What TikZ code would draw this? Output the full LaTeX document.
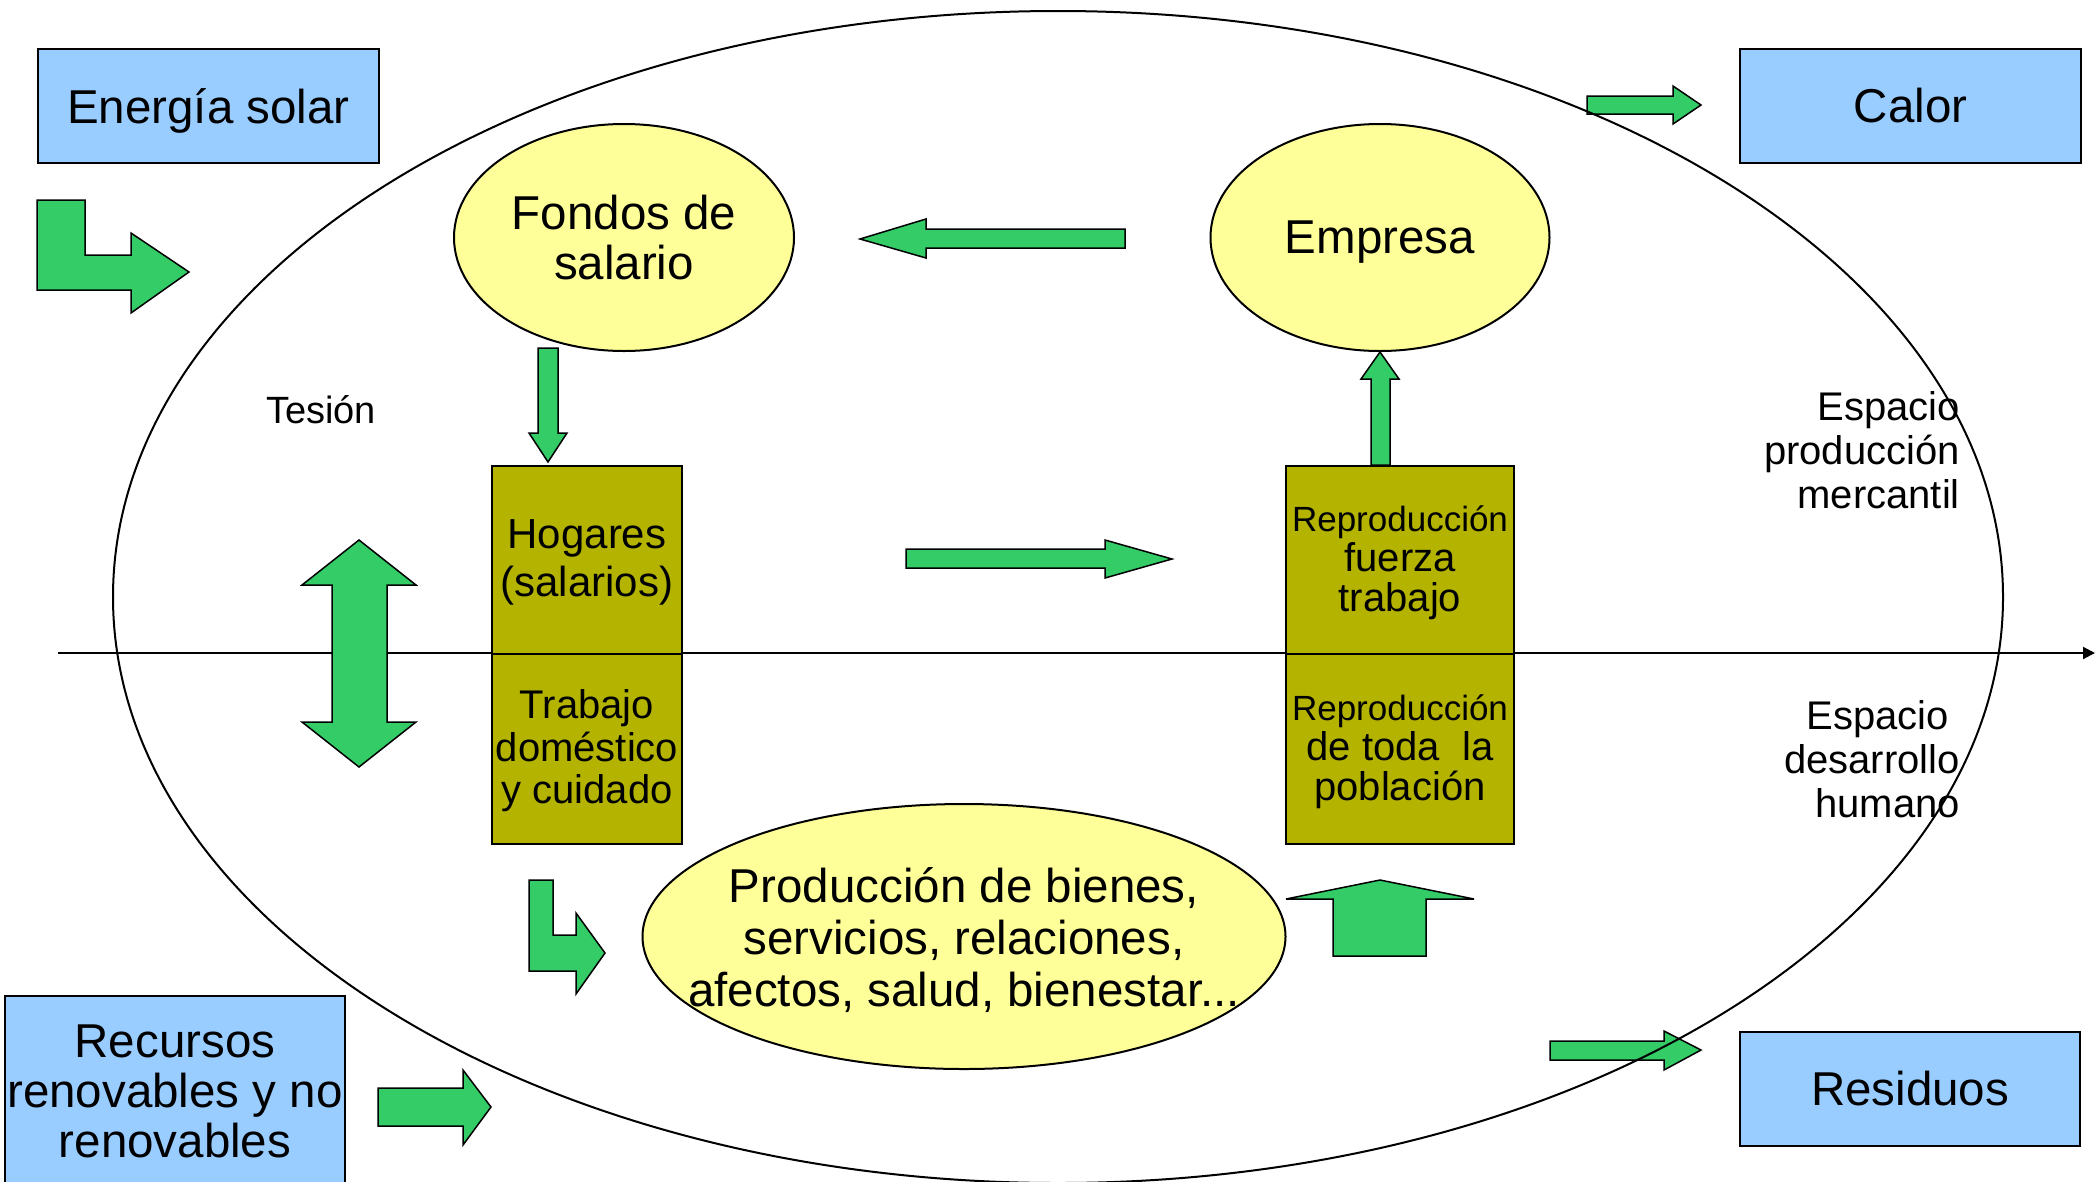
\documentclass[tikz,border=0pt]{standalone}
\usepackage{fontspec}
\setmainfont{Liberation Sans}
\usetikzlibrary{shapes.geometric,arrows.meta}
\definecolor{sky}{HTML}{99CCFF}
\definecolor{pale}{HTML}{FFFF99}
\definecolor{leaf}{HTML}{33CC66}
\definecolor{olivebox}{HTML}{B3B300}
\begin{document}
\begin{tikzpicture}[x=1pt,y=-1pt,
  bigfont/.style={font=\fontsize{47.5}{50}\selectfont},
  srcbox/.style={draw,line width=2pt,fill=sky,inner sep=0pt,anchor=north west,align=center,bigfont},
  blob/.style={ellipse,draw,line width=2pt,fill=pale,inner sep=0pt,align=center,bigfont},
  halfbox/.style={draw,line width=2pt,fill=olivebox,inner sep=0pt,anchor=north west},
  intext/.style={inner sep=0pt,align=center},
  blk/.style={fill=leaf,draw=black,line width=1.5pt,line join=miter},
  lbl/.style={inner sep=0pt,font=\fontsize{40}{44}\selectfont}]
\clip (0,0) rectangle (2095,1181);
% axis
\coordinate (axL) at (58,653);
\coordinate (axR) at (2095,653);
\draw[line width=2pt,-{Triangle[length=12pt,width=12pt]}] (axL) -- (axR);

% source / sink boxes
\node[srcbox,minimum width=341pt,minimum height=114pt,text depth=0pt] (sol) at (37,48) {Energía solar};
\node[srcbox,minimum width=341pt,minimum height=114pt] (calor) at (1739,48) {Calor};
\node[srcbox,minimum width=340pt,minimum height=114pt] (resid) at (1739,1031) {Residuos};
\node[srcbox,minimum width=340pt,minimum height=190pt] (recur) at (4,995) {Recursos\\renovables y no\\renovables};

% ellipses
\node[blob,minimum width=340pt,minimum height=227pt] (fondos) at (624,237.5) {Fondos de\\salario};
\node[blob,minimum width=339pt,minimum height=227pt,text depth=0pt] (empresa) at (1380,237.5) {Empresa};
\node[blob,minimum width=643pt,minimum height=265pt] (prod) at (964,936.5) {};
\node[intext,font=\fontsize{47.5}{52}\selectfont] (prodtxt) at ([yshift=-4pt]prod.center) {Producción de bienes,\\servicios, relaciones,\\afectos, salud, bienestar...};

% olive boxes
\node[halfbox,minimum width=190pt,minimum height=188.5pt] (hog) at (491,464.5) {};
\node[halfbox,minimum width=190pt,minimum height=189.5pt] (trab) at (491,653) {};
\node[halfbox,minimum width=228pt,minimum height=188.5pt] (repf) at (1285,464.5) {};
\node[halfbox,minimum width=228pt,minimum height=189.5pt] (repp) at (1285,653) {};
\node[intext,font=\fontsize{42}{48}\selectfont] (hogt) at ([yshift=-3pt]hog.center) {Hogares\\(salarios)};
\node[intext,font=\fontsize{40}{42.5}\selectfont] (trabt) at ([yshift=-2pt]trab.center) {Trabajo\\doméstico\\y cuidado};
\node[intext,font=\fontsize{40}{40}\selectfont] (repft) at ([yshift=-3pt]repf.center) {{\fontsize{35}{39}\selectfont Reproducción}\\fuerza\\trabajo};
\node[intext,font=\fontsize{40}{40}\selectfont] (reppt) at ([yshift=-3pt]repp.center) {{\fontsize{35}{39}\selectfont Reproducción}\\de toda\ \ la\\población};

% block arrows
\draw[blk] (37,200) -- (85,200) -- (85,255) -- (131,255) -- (131,233) -- (189,272) -- (131,313) -- (131,290) -- (37,290) -- cycle;
\draw[blk] (538,348) -- (558,348) -- (558,433) -- (567,433) -- (548,462) -- (529,433) -- (538,433) -- cycle;
\draw[blk] (1125,229) -- (926,229) -- (926,219) -- (860,239) -- (926,258) -- (926,248) -- (1125,248) -- cycle;
\draw[blk] (1371,465) -- (1371,379) -- (1361,379) -- (1380,352) -- (1399,379) -- (1390,379) -- (1390,465) -- cycle;
\draw[blk] (906,549) -- (1105,549) -- (1105,540) -- (1172,559) -- (1105,578) -- (1105,568) -- (906,568) -- cycle;
\draw[blk] (359,540) -- (416,585) -- (387,585) -- (387,722) -- (416,722) -- (359,767) -- (302,722) -- (332,722) -- (332,585) -- (302,585) -- cycle;
\draw[blk] (529,880) -- (553,880) -- (553,935) -- (576,935) -- (576,913) -- (605,953) -- (576,994) -- (576,971) -- (529,971) -- cycle;
\draw[blk] (378,1088) -- (463,1088) -- (463,1070) -- (491,1107) -- (463,1145) -- (463,1126) -- (378,1126) -- cycle;
\draw[blk] (1333,956) -- (1333,899) -- (1286,899) -- (1380,880) -- (1474,899) -- (1426,899) -- (1426,956) -- cycle;
\draw[blk] (1550,1041) -- (1664,1041) -- (1664,1031) -- (1701,1050) -- (1664,1070) -- (1664,1060) -- (1550,1060) -- cycle;
\draw[blk] (1587,96) -- (1673,96) -- (1673,86) -- (1701,105) -- (1673,124) -- (1673,114) -- (1587,114) -- cycle;

% big ellipse
\node[ellipse,draw,line width=2pt,inner sep=0pt,minimum width=1890pt,minimum height=1172pt] (space) at (1058,597) {};

% labels
\node[lbl,font=\fontsize{38}{42}\selectfont] (tesion) at (321,410) {Tesión};
\node[lbl,align=right,anchor=east] (merc) at (1960,450) {Espacio\\producción\\mercantil};
\node[lbl,align=right,anchor=east] (human) at (1960,759) {Espacio\hspace*{11pt}\\desarrollo\\humano};
\end{tikzpicture}
\end{document}
